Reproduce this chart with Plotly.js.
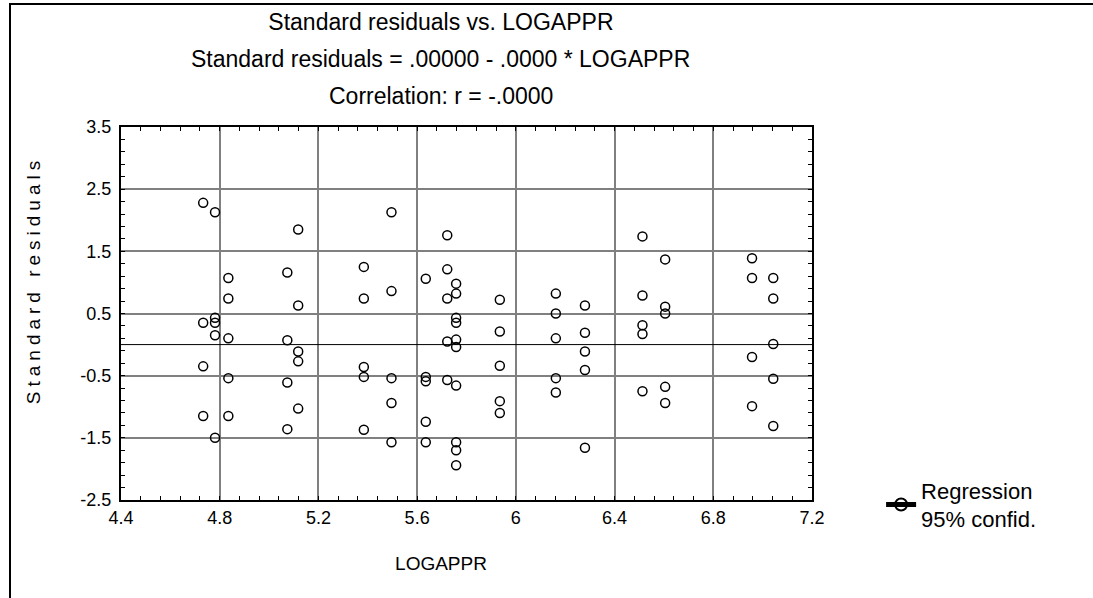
<!DOCTYPE html>
<html>
<head>
<meta charset="utf-8">
<script src="https://cdn.plot.ly/plotly-3.0.1.min.js"></script>
<style>
  html, body { margin: 0; padding: 0; background: #fff; overflow: hidden; }
  #wrap { position: relative; width: 1093px; height: 598px; }
  #chart { width: 1093px; height: 598px; }
  #frame { position: absolute; left: 9px; top: 3px; width: 1084px; height: 595px;
           border-left: 2px solid #000; border-top: 2px solid #000; box-sizing: border-box; pointer-events: none; }
</style>
</head>
<body>
<div id="wrap">
  <div id="chart"></div>
  <div id="frame"></div>
</div>
<script>
// ---- data ----
const logappr = [
  4.733, 4.733, 4.733, 4.733,
  4.781, 4.781, 4.781, 4.781, 4.781,
  4.835, 4.835, 4.835, 4.835, 4.835,
  5.074, 5.074, 5.074, 5.074,
  5.118, 5.118, 5.118, 5.118, 5.118,
  5.384, 5.384, 5.384, 5.384, 5.384,
  5.496, 5.496, 5.496, 5.496, 5.496,
  5.635, 5.635, 5.635, 5.635, 5.635,
  5.722, 5.722, 5.722, 5.722, 5.722,
  5.758, 5.758, 5.758, 5.758, 5.758, 5.758, 5.758, 5.758, 5.758, 5.758,
  5.935, 5.935, 5.935, 5.935, 5.935,
  6.162, 6.162, 6.162, 6.162, 6.162,
  6.280, 6.280, 6.280, 6.280, 6.280,
  6.513, 6.513, 6.513, 6.513, 6.513,
  6.605, 6.605, 6.605, 6.605, 6.605,
  6.957, 6.957, 6.957, 6.957,
  7.043, 7.043, 7.043, 7.043, 7.043
];
const stdResiduals = [
  2.28, 0.35, -0.35, -1.15,
  2.13, 0.43, 0.35, 0.15, -1.50,
  1.07, 0.74, 0.10, -0.54, -1.15,
  1.16, 0.07, -0.61, -1.36,
  1.85, 0.63, -0.11, -0.27, -1.03,
  1.25, 0.74, -0.36, -0.52, -1.37,
  2.13, 0.86, -0.54, -0.94, -1.57,
  1.06, -0.52, -0.59, -1.24, -1.57,
  1.76, 1.21, 0.74, 0.05, -0.57,
  0.98, 0.82, 0.43, 0.35, 0.08, -0.04, -0.66, -1.57, -1.70, -1.94,
  0.72, 0.21, -0.34, -0.91, -1.10,
  0.82, 0.50, 0.10, -0.54, -0.77,
  0.63, 0.19, -0.11, -0.41, -1.66,
  1.74, 0.79, 0.31, 0.17, -0.75,
  1.37, 0.61, 0.50, -0.68, -0.94,
  1.39, 1.07, -0.20, -0.99,
  1.07, 0.74, 0.01, -0.55, -1.31
];
const regIntercept = 0.0;
const regSlope = -0.0;
const xRange = [4.4, 7.2];
const yRange = [-2.5, 3.5];
const xTickVals = [4.4, 4.8, 5.2, 5.6, 6.0, 6.4, 6.8, 7.2];
const xTickText = ['4.4', '4.8', '5.2', '5.6', '6', '6.4', '6.8', '7.2'];
const yTickVals = [-2.5, -1.5, -0.5, 0.5, 1.5, 2.5, 3.5];
const yTickText = ['-2.5', '-1.5', '-0.5', '0.5', '1.5', '2.5', '3.5'];
const titleLines = [
  'Standard residuals vs. LOGAPPR',
  'Standard residuals = .00000 - .0000 * LOGAPPR',
  'Correlation: r = -.0000'
];
const legendName = 'Regression<br>95% confid.';

// regression line over the axis extent
const regX = xRange.slice();
const regY = regX.map(x => regIntercept + regSlope * x);

const FONT = 'Liberation Sans, Arial, sans-serif';
const TITLE_SIZE = 23;

const traces = [
  {
    type: 'scatter', mode: 'markers', x: logappr, y: stdResiduals,
    showlegend: false, cliponaxis: false,
    marker: { symbol: 'circle-open', size: 9, color: '#000', line: { width: 1.5, color: '#000' } },
    hoverinfo: 'x+y'
  },
  {
    type: 'scatter', mode: 'lines+markers', x: regX, y: regY,
    name: legendName, showlegend: true,
    line: { color: '#000', width: 1 },
    marker: { symbol: 'circle-open', size: 0.001, color: '#000', line: { width: 0.001, color: '#000' } },
    hoverinfo: 'skip'
  }
];

const axisCommon = {
  showline: true, linecolor: '#000', linewidth: 2, mirror: 'allticks',
  ticks: 'inside', ticklen: 4, tickcolor: '#000', tickwidth: 1,
  showgrid: true, gridcolor: '#808080', gridwidth: 2,
  zeroline: false,
  tickfont: { family: FONT, size: 18, color: '#000' },
  tickmode: 'array', fixedrange: true
};

const layout = {
  width: 1093, height: 598,
  margin: { l: 121, r: 281, t: 127, b: 98, pad: 0 },
  paper_bgcolor: '#fff', plot_bgcolor: '#fff',
  font: { family: FONT, size: 18, color: '#000' },
  title: {
    text: titleLines[0],
    font: { family: FONT, size: TITLE_SIZE, color: '#000' },
    xref: 'paper', x: 0.463, xanchor: 'center',
    yref: 'container', y: 1 - 22 / 598, yanchor: 'middle'
  },
  annotations: [
    { text: titleLines[1], xref: 'paper', yref: 'paper', x: 0.463, y: 1 + (127 - 59) / 373,
      xanchor: 'center', yanchor: 'middle', showarrow: false, font: { family: FONT, size: TITLE_SIZE, color: '#000' } },
    { text: titleLines[2], xref: 'paper', yref: 'paper', x: 0.463, y: 1 + (127 - 96) / 373,
      xanchor: 'center', yanchor: 'middle', showarrow: false, font: { family: FONT, size: TITLE_SIZE, color: '#000' } }
  ],
  xaxis: Object.assign({}, axisCommon, {
    range: xRange, tickvals: xTickVals, ticktext: xTickText,
    minor: { dtick: 0.08, tick0: 4.4, ticks: 'inside', ticklen: 4, tickcolor: '#000', tickwidth: 1, showgrid: false },
    title: { text: 'LOGAPPR', font: { family: FONT, size: 19, color: '#000' }, standoff: 30 }
  }),
  yaxis: Object.assign({}, axisCommon, {
    range: yRange, tickvals: yTickVals, ticktext: yTickText,
    minor: { dtick: 0.2, tick0: -2.5, ticks: 'inside', ticklen: 4, tickcolor: '#000', tickwidth: 1, showgrid: false },
    title: { text: 'Standard residuals', font: { family: FONT, size: 19, color: '#000' }, standoff: 20 }
  }),
  showlegend: true,
  legend: {
    x: 1.10, xanchor: 'left', y: -0.013, yanchor: 'middle',
    bgcolor: 'rgba(0,0,0,0)', borderwidth: 0,
    itemsizing: 'constant',
    font: { family: FONT, size: 22, color: '#000' }
  }
};

Plotly.newPlot('chart', traces, layout, { displayModeBar: false, staticPlot: true }).then(function () {
  // nudge axis titles / y tick labels to the reference positions
  const xt = document.querySelector('.xtitle');
  if (xt) {
    const bb = xt.getBoundingClientRect();
    const cx = bb.left + bb.width / 2;
    const dx = 441 - cx;
    const old = xt.getAttribute('transform') || '';
    xt.setAttribute('transform', 'translate(' + dx + ',0) ' + old);
  }
  const yt = document.querySelector('.ytitle');
  if (yt) {
    yt.style.letterSpacing = '5px';
    const bb = yt.getBoundingClientRect();
    const cy = bb.top + bb.height / 2;
    const cx = bb.left + bb.width / 2;
    const dy = 280 - cy;
    const dx = 33 - cx;
    const old = yt.getAttribute('transform') || '';
    yt.setAttribute('transform', 'translate(' + dx + ',' + dy + ') ' + old);
  }
  document.querySelectorAll('g.ytick').forEach(function (g) {
    const old = g.getAttribute('transform') || '';
    g.setAttribute('transform', 'translate(-4,0) ' + old);
  });
});
</script>
</body>
</html>
